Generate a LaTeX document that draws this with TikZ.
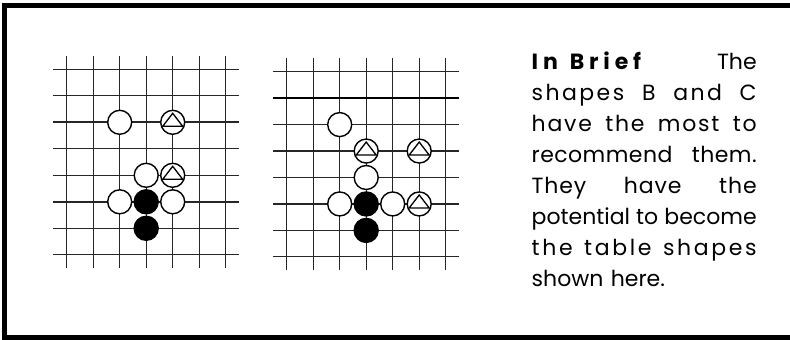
\documentclass[tikz,border=0pt]{standalone}
\usepackage{fontspec}
\newfontfamily\gothic{Poppins}
\usetikzlibrary{positioning}

% one justified line of the side text, with some letter spacing
\newcommand{\fullline}[2][0]{\makebox[225pt][s]{\addfontfeatures{LetterSpace=#1}%
  \spaceskip=0.28em plus 1fil minus 0.1em\relax #2}}

\tikzset{
  gridline/.style={line width=1.2pt, black!85},
  edgeline/.style={line width=2.6pt, black},
  stone/.style={circle, draw, line width=1.4pt, minimum size=24pt, inner sep=0pt},
  wstone/.style={stone, fill=white},
  bstone/.style={stone, fill=black},
  tstone/.style={stone, fill=white, path picture={
    \draw[line width=1.3pt, line join=miter] (path picture bounding box.center)
      ++(0,9pt) -- ++(-10pt,-13pt) -- ++(20pt,0) -- cycle;}}
}

\begin{document}
\begin{tikzpicture}[x=1pt, y=1pt]
\useasboundingbox (0,0) rectangle (790,340);
% frame, open on the right
\draw[line width=5pt] (790,334.5) -- (4.5,334.5) -- (4.5,2.5) -- (790,2.5);
% left board
\begin{scope}[shift={(66.7,270.7)}, x=26.5pt, y=-26.5pt]
\foreach \r in {0,...,7} \draw[gridline] (-0.5,\r) -- (6.5,\r);
\foreach \c in {0,...,6} \draw[gridline] (\c,-0.5) -- (\c,7.5);
\draw[gridline, line width=1.7pt] (-0.5,2) -- (6.5,2);
\draw[gridline, line width=1.7pt] (-0.5,5) -- (6.5,5);
\node[wstone] (lw1) at (2,2) {};
\node[tstone] (lt1) at (4,2) {};
\node[wstone] (lw2) at (3,4) {};
\node[tstone] (lt2) at (4,4) {};
\node[wstone] (lw3) at (2,5) {};
\node[bstone] (lb1) at (3,5) {};
\node[wstone] (lw4) at (4,5) {};
\node[bstone] (lb2) at (3,6) {};
\end{scope}
% right board
\begin{scope}[shift={(286.7,268.3)}, x=26.5pt, y=-26.45pt]
\foreach \r in {0,...,7} \draw[gridline] (-0.5,\r) -- (6.5,\r);
\foreach \c in {0,...,6} \draw[gridline] (\c,-0.5) -- (\c,7.5);
\draw[edgeline] (-0.5,1) -- (6.5,1);
\node[wstone] (rw1) at (2,2) {};
\node[tstone] (rt1) at (3,3) {};
\node[tstone] (rt2) at (5,3) {};
\node[wstone] (rw2) at (3,4) {};
\node[wstone] (rw3) at (2,5) {};
\node[bstone] (rb1) at (3,5) {};
\node[wstone] (rw4) at (4,5) {};
\node[tstone] (rt3) at (5,5) {};
\node[bstone] (rb2) at (3,6) {};
\end{scope}
% side text
\node[anchor=base west, inner sep=0pt, text width=225pt, align=left,
  font=\gothic\fontsize{22pt}{31pt}\selectfont] (brief) at (531.5,270)
  {\makebox[225pt][s]{{\bfseries\addfontfeatures{LetterSpace=22}In\hspace{12pt}Brief}\hfill The}\\
   \fullline[11]{shapes B and C}\\
   \fullline[8]{have the most to}\\
   \fullline[2]{recommend them.}\\
   \fullline[4]{They have the}\\
   \fullline{potential to become}\\
   \fullline[12]{the table shapes}\\
   shown here.};
\end{tikzpicture}
\end{document}
